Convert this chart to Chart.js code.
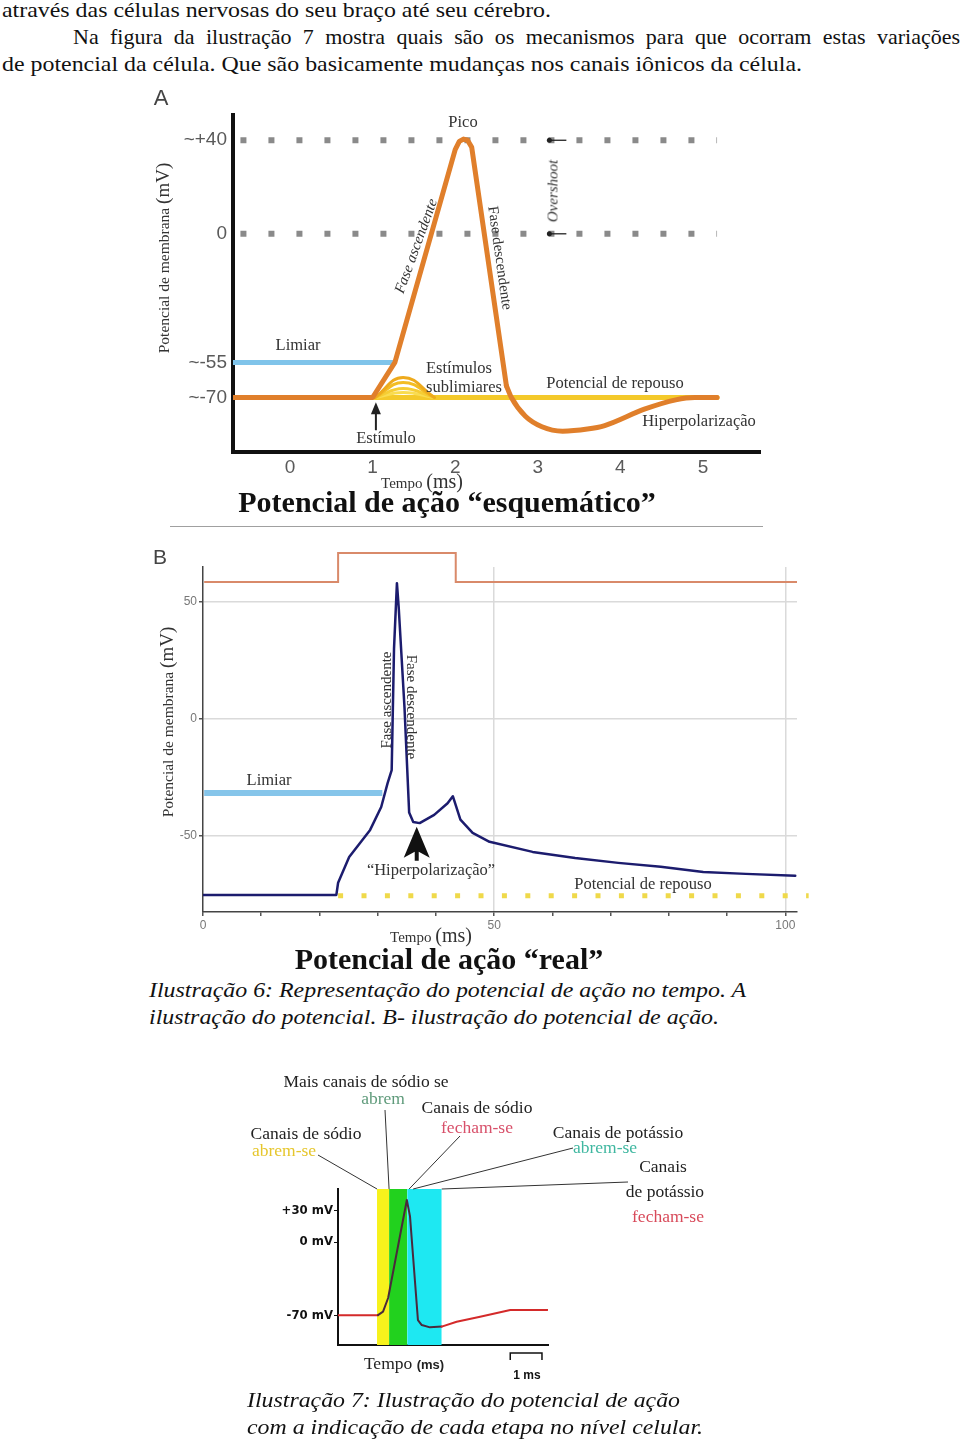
<!DOCTYPE html>
<html lang="pt">
<head>
<meta charset="utf-8">
<script src="https://cdn.jsdelivr.net/npm/chart.js@4.4.1/dist/chart.umd.min.js"></script>
<style>
  html, body { margin: 0; padding: 0; background: #fff; }
  body { position: relative; width: 960px; height: 1442px; overflow: hidden;
         font-family: 'Liberation Serif', serif; color: #111; }
  canvas { position: absolute; }
  .linha { position: absolute; font-size: 22px; line-height: 1; white-space: nowrap; transform-origin: 0 0; }
  .just { text-align: justify; text-align-last: justify; white-space: normal; }
  .leg { font-style: italic; }
  .t { position: absolute; transform: translate(-50%, -50%); white-space: nowrap; line-height: 1;
       font-size: 16.5px; color: #333; }
  .sans { font-family: 'Liberation Sans', Arial, sans-serif; }
  .titulo { font-weight: bold; font-size: 30px; color: #111; }
  .c { font-size: 17.5px; color: #222; }
</style>
</head>
<body>

<!-- texto do documento -->
<div class="linha" style="left:2px; top:-1px" data-w="549">através das células nervosas do seu braço até seu cérebro.</div>
<div class="linha just" style="left:73px; top:26px; width:887px">Na figura da ilustração 7 mostra quais são os mecanismos para que ocorram estas variações</div>
<div class="linha" style="left:2px; top:53px" data-w="800">de potencial da célula. Que são basicamente mudanças nos canais iônicos da célula.</div>

<canvas id="graficoA" width="620" height="440" style="left:150px; top:85px"></canvas>
<canvas id="graficoB" width="670" height="420" style="left:150px; top:540px"></canvas>
<canvas id="graficoC" width="480" height="330" style="left:240px; top:1060px"></canvas>

<!-- rótulos do gráfico A -->
<div class="t sans" style="left:161px; top:98px; font-size:22px; color:#444">A</div>
<div class="t" style="left:162px; top:258px; transform:translate(-50%,-50%) rotate(-90deg); font-size:15.5px">Potencial de membrana <span style="font-size:19px">(mV)</span></div>
<div class="t" style="left:463px; top:122px">Pico</div>
<div class="t" style="left:416px; top:246px; transform:translate(-50%,-50%) rotate(-70deg); font-size:15px; font-style:italic">Fase ascendente</div>
<div class="t" style="left:500px; top:258px; transform:translate(-50%,-50%) rotate(82deg); font-size:15px">Fase descendente</div>
<div class="t" style="left:553px; top:191px; transform:translate(-50%,-50%) rotate(-90deg); font-size:15px; font-style:italic">Overshoot</div>
<div class="t" style="left:298px; top:345px">Limiar</div>
<div class="t" style="left:459px; top:368px">Estímulos</div>
<div class="t" style="left:464px; top:387px">sublimiares</div>
<div class="t" style="left:615px; top:383px">Potencial de repouso</div>
<div class="t" style="left:699px; top:421px">Hiperpolarização</div>
<div class="t" style="left:386px; top:438px">Estímulo</div>
<div class="t" style="left:422px; top:481px; font-size:15px">Tempo <span style="font-size:20px">(ms)</span></div>
<div class="t titulo" style="left:447px; top:502px">Potencial de ação “esquemático”</div>
<div style="position:absolute; left:170px; top:526px; width:593px; height:1px; background:#a0a0a0"></div>

<!-- rótulos do gráfico B -->
<div class="t sans" style="left:160px; top:556px; font-size:21px; color:#444">B</div>
<div class="t" style="left:166px; top:722px; transform:translate(-50%,-50%) rotate(-90deg); font-size:15.5px">Potencial de membrana <span style="font-size:19px">(mV)</span></div>
<div class="t" style="left:269px; top:780px">Limiar</div>
<div class="t" style="left:386px; top:700px; transform:translate(-50%,-50%) rotate(-90deg); font-size:15px">Fase ascendente</div>
<div class="t" style="left:411px; top:707px; transform:translate(-50%,-50%) rotate(90deg); font-size:15px">Fase descendente</div>
<div class="t" style="left:431px; top:870px">“Hiperpolarização”</div>
<div class="t" style="left:643px; top:884px">Potencial de repouso</div>
<div class="t" style="left:431px; top:935px; font-size:15px">Tempo <span style="font-size:20px">(ms)</span></div>
<div class="t titulo" style="left:449px; top:959px">Potencial de ação “real”</div>

<div class="linha leg" style="left:149px; top:979px" data-w="597">Ilustração 6: Representação do potencial de ação no tempo. A</div>
<div class="linha leg" style="left:149px; top:1006px" data-w="570">ilustração do potencial. B- ilustração do potencial de ação.</div>

<!-- rótulos do gráfico C -->
<div class="t c" style="left:366px; top:1082px">Mais canais de sódio se</div>
<div class="t c" style="left:383px; top:1099px; color:#5e9a7a">abrem</div>
<div class="t c" style="left:477px; top:1108px">Canais de sódio</div>
<div class="t c" style="left:477px; top:1128px; color:#d8506a">fecham-se</div>
<div class="t c" style="left:306px; top:1134px">Canais de sódio</div>
<div class="t c" style="left:284px; top:1151px; color:#e6c62c">abrem-se</div>
<div class="t c" style="left:618px; top:1133px">Canais de potássio</div>
<div class="t c" style="left:605px; top:1148px; color:#3fb7a0">abrem-se</div>
<div class="t c" style="left:663px; top:1167px">Canais</div>
<div class="t c" style="left:665px; top:1192px">de potássio</div>
<div class="t c" style="left:668px; top:1217px; color:#d84a5a">fecham-se</div>
<div class="t c" style="left:404px; top:1364px">Tempo <span class="sans" style="font-size:13px; font-weight:bold">(ms)</span></div>
<div class="t sans" style="left:527px; top:1375px; font-size:12px; font-weight:bold; color:#111">1 ms</div>

<div class="linha leg" style="left:247px; top:1389px" data-w="433">Ilustração 7: Ilustração do potencial de ação</div>
<div class="linha leg" style="left:247px; top:1416px" data-w="456">com a indicação de cada etapa no nível celular.</div>

<script>
// ── A: potencial de ação "esquemático" (tempo em ms, potencial em mV) ──
const tempoTicksA   = [0, 1, 2, 3, 4, 5];
const nivelTicksA   = [40, 0, -55, -70];
const rotulosTicksA = ['~+40', '0', '~-55', '~-70'];

const tempoSubidaA     = [-0.69, 1.0, 1.27, 2.0, 2.05, 2.1, 2.15, 2.2, 2.62];
const potencialSubidaA = [-70, -70, -55, 36, 39.5, 40.5, 40, 37, -65];
const tempoRetornoA     = [2.62, 2.68, 2.85, 3.05, 3.3, 3.6, 3.81, 4.29, 4.67, 4.9, 5.17];
const potencialRetornoA = [-65, -70, -78, -82.5, -84.4, -83.5, -82, -75, -71, -70, -70];

const tempoSublimiarA = [1.03, 1.37, 1.75];
const picosSublimiarA = [-61.4, -63.6, -66.2, -67.9];
const coresSublimiarA = ['#eeaa1c', '#f3bd24', '#f6cd34', '#f9dc50'];

const tempoRepousoA = [1.0, 5.17];
const tempoLimiarA  = [-0.69, 1.27];
const tempoGuiasA   = [-0.6, 5.17];
const nivelGuiasA   = [40, 0];

// ── B: potencial de ação "real" ──
const tempoB = [0, 22.9, 23.2, 25.1, 28.7, 30.6, 31.7, 32.4, 32.8, 33.3, 33.6, 34.6, 35.4, 36.1, 37.2,
                39.7, 42.0, 42.9, 44.2, 46.3, 49.2, 56.6, 63.9, 71.3, 78.6, 85.9, 93.2, 101.7];
const potencialB = [-75.2, -75.2, -70, -59, -47.4, -37.6, -27.4, -21.8, 30, 58.1, 48, 5, -40, -44, -44.5,
                    -41, -36, -33, -43, -48.7, -52.5, -56.8, -59.4, -61.5, -63.2, -65.4, -66.2, -67];
const tempoEstimuloB = [0.2, 23.2, 23.2, 43.4, 43.4, 102];
const nivelEstimuloB = [58.6, 58.6, 71, 71, 58.6, 58.6];
const tempoLimiarB   = [0.2, 30.8];
const nivelLimiarB   = -31.6;
const tempoRepousoB  = [23.2, 104];
const nivelRepousoB  = -75.6;
const tempoTicksB    = [0, 10, 20, 30, 40, 50, 60, 70, 80, 90, 100];
const nivelTicksB    = [50, 0, -50];

// ── C: canais iônicos ──
const tempoC     = [0, 1.26, 1.42, 1.58, 2.17, 2.27, 2.52, 2.64, 2.90, 3.27, 3.74, 4.48, 5.43, 6.6];
const potencialC = [-70, -70, -66.7, -53.6, 40.3, 24.6, -74.8, -79.5, -81.7, -81, -76.3, -71.5, -65, -65];
const faseInicioC = [1.23, 1.61, 2.18];
const faseFimC    = [1.61, 2.18, 3.27];
const faseCoresC  = ['#f7f21c', '#22d11e', '#1ee8f2'];
const nivelTicksC   = [30, 0, -70];
const rotulosTicksC = ['+30 mV', '0 mV', '-70 mV'];

const pontos = (xs, ys) => xs.map((x, i) => ({ x, y: Array.isArray(ys) ? ys[i] : ys }));
const fixarTicks = valores => scale => { scale.ticks = valores.map(v => ({ value: v })); };

Chart.defaults.font.family = "'Liberation Sans', Arial, sans-serif";

const basico = {
  responsive: false,
  animation: false,
  devicePixelRatio: 1,
  events: [],
  plugins: { legend: { display: false }, tooltip: { enabled: false } },
  elements: { point: { radius: 0 }, line: { borderJoinStyle: 'round', borderCapStyle: 'round', fill: false } }
};

// ── plugins de anotação ──
const anotacoesA = {
  id: 'anotacoesA',
  afterDatasetsDraw(chart) {
    const { ctx, scales: { x, y } } = chart;
    ctx.save();
    ctx.strokeStyle = '#222';
    ctx.fillStyle = '#222';
    // seta do estímulo
    const sx = x.getPixelForValue(1.04);
    const topo = y.getPixelForValue(-72);
    const base = y.getPixelForValue(-84);
    ctx.lineWidth = 2;
    ctx.beginPath(); ctx.moveTo(sx, base); ctx.lineTo(sx, topo + 8); ctx.stroke();
    ctx.beginPath(); ctx.moveTo(sx, topo); ctx.lineTo(sx - 5, topo + 12); ctx.lineTo(sx + 5, topo + 12); ctx.closePath(); ctx.fill();
    // marcas do overshoot
    ctx.lineWidth = 1.3;
    nivelGuiasA.forEach(v => {
      const py = y.getPixelForValue(v);
      const px = x.getPixelForValue(3.14);
      ctx.beginPath(); ctx.moveTo(px, py); ctx.lineTo(px + 17, py); ctx.stroke();
      ctx.beginPath(); ctx.arc(px, py, 2.5, 0, Math.PI * 2); ctx.fill();
    });
    ctx.restore();
  }
};

const anotacoesB = {
  id: 'anotacoesB',
  afterDatasetsDraw(chart) {
    const { ctx, scales: { x, y } } = chart;
    const px = x.getPixelForValue(36.7);
    const py = y.getPixelForValue(-46);
    ctx.save();
    ctx.fillStyle = '#111';
    ctx.beginPath();
    ctx.moveTo(px, py);
    ctx.lineTo(px + 13, py + 31);
    ctx.lineTo(px + 2, py + 25);
    ctx.lineTo(px + 2, py + 34);
    ctx.lineTo(px - 2, py + 34);
    ctx.lineTo(px - 2, py + 25);
    ctx.lineTo(px - 13, py + 31);
    ctx.closePath();
    ctx.fill();
    ctx.restore();
  }
};

const anotacoesC = {
  id: 'anotacoesC',
  afterDatasetsDraw(chart) {
    const { ctx, chartArea, scales: { x, y } } = chart;
    const topo = chartArea.top;
    // linhas de chamada: do rótulo (px no canvas) até a borda de cada fase
    const chamadas = [
      [78, 95, x.getPixelForValue(faseInicioC[0])],
      [145, 50, x.getPixelForValue(faseInicioC[1])],
      [220, 76, x.getPixelForValue(faseFimC[1]) + 2],
      [333, 88, x.getPixelForValue(faseFimC[1]) + 6],
      [388, 122, x.getPixelForValue(faseFimC[2])]
    ];
    ctx.save();
    ctx.strokeStyle = '#333';
    ctx.lineWidth = 1;
    chamadas.forEach(([lx, ly, ax]) => {
      ctx.beginPath(); ctx.moveTo(lx, ly); ctx.lineTo(ax, topo); ctx.stroke();
    });
    // barra de escala de 1 ms
    const x0 = x.getPixelForValue(5.43);
    const x1 = x.getPixelForValue(6.43);
    const by = chartArea.bottom + 8;
    ctx.strokeStyle = '#111';
    ctx.lineWidth = 1.5;
    ctx.beginPath();
    ctx.moveTo(x0, by + 7); ctx.lineTo(x0, by); ctx.lineTo(x1, by); ctx.lineTo(x1, by + 7);
    ctx.stroke();
    ctx.restore();
  }
};

// ── gráfico A ──
const laranja = '#e07f2b';
new Chart(document.getElementById('graficoA'), {
  type: 'line',
  data: {
    datasets: [
      { data: pontos(tempoSubidaA, potencialSubidaA), borderColor: laranja, borderWidth: 5, tension: 0, order: 1 },
      { data: pontos(tempoRetornoA, potencialRetornoA), borderColor: laranja, borderWidth: 5, cubicInterpolationMode: 'monotone', order: 1 },
      ...picosSublimiarA.map((p, i) => ({
        data: pontos(tempoSublimiarA, [-70, p, -70]),
        borderColor: coresSublimiarA[i], borderWidth: 3, tension: 0.45, order: 2 + i * 0.1
      })),
      { data: pontos(tempoRepousoA, -70), borderColor: '#f4c92a', borderWidth: 5, order: 3 },
      { data: pontos(tempoLimiarA, -55), borderColor: '#80c4ea', borderWidth: 5, borderCapStyle: 'butt', order: 3 },
      ...nivelGuiasA.map(v => ({
        data: pontos(tempoGuiasA, v), borderColor: '#8a8a8a', borderWidth: 6,
        borderDash: [6, 22], borderCapStyle: 'butt', order: 4
      }))
    ]
  },
  options: {
    ...basico,
    layout: { padding: { top: 30, right: 10, left: 0, bottom: 0 } },
    scales: {
      x: {
        type: 'linear', min: -0.69, max: 5.69,
        afterBuildTicks: fixarTicks(tempoTicksA),
        afterFit: s => { s.height = 73; },
        grid: { display: false, drawTicks: false },
        border: { color: '#111', width: 4 },
        ticks: { autoSkip: false, padding: 4, color: '#5a5a5a', font: { size: 19 } }
      },
      y: {
        type: 'linear', min: -93.3, max: 50.8,
        afterBuildTicks: fixarTicks(nivelTicksA),
        afterFit: s => { s.width = 83; },
        grid: { display: false, drawTicks: false },
        border: { color: '#111', width: 4 },
        ticks: {
          autoSkip: false, padding: 6, color: '#5a5a5a', font: { size: 19 },
          callback: v => rotulosTicksA[nivelTicksA.indexOf(v)]
        }
      }
    }
  },
  plugins: [anotacoesA]
});

// ── gráfico B ──
const cinzaGrade = '#dadada';
new Chart(document.getElementById('graficoB'), {
  type: 'line',
  data: {
    datasets: [
      { data: pontos(tempoB, potencialB), borderColor: '#1c1c6e', borderWidth: 2.5, tension: 0, order: 1 },
      { data: pontos(tempoLimiarB, nivelLimiarB), borderColor: '#86c5ea', borderWidth: 6, borderCapStyle: 'butt', order: 2 },
      { data: pontos(tempoRepousoB, nivelRepousoB), borderColor: '#efd94a', borderWidth: 5,
        borderDash: [5, 18.4], borderCapStyle: 'butt', clip: false, order: 3 },
      { data: pontos(tempoEstimuloB, nivelEstimuloB), borderColor: '#d98a6a', borderWidth: 2,
        borderJoinStyle: 'miter', borderCapStyle: 'butt', clip: false, order: 3 }
    ]
  },
  options: {
    ...basico,
    layout: { padding: { top: 27, right: 23, left: 0, bottom: 0 } },
    scales: {
      x: {
        type: 'linear', min: 0, max: 102,
        afterBuildTicks: fixarTicks(tempoTicksB),
        afterFit: s => { s.height = 48; },
        grid: {
          color: c => (c.tick && c.tick.value > 0 && c.tick.value % 50 === 0) ? cinzaGrade : 'transparent',
          tickColor: '#555', tickLength: 4, lineWidth: 1.5
        },
        border: { color: '#444', width: 1.5 },
        ticks: { autoSkip: false, padding: 2, color: '#777', font: { size: 12 },
                 callback: v => (v % 50 === 0 ? v : '') }
      },
      y: {
        type: 'linear', min: -82.5, max: 65,
        afterBuildTicks: fixarTicks(nivelTicksB),
        afterFit: s => { s.width = 53; },
        grid: { color: cinzaGrade, tickColor: '#555', tickLength: 4, lineWidth: 1.5 },
        border: { color: '#444', width: 1.5 },
        ticks: { autoSkip: false, padding: 2, color: '#777', font: { size: 12 } }
      }
    }
  },
  plugins: [anotacoesB]
});

// ── gráfico C ──
const topoFaseC = 50.8;
const dentroDasFases = x => x > faseInicioC[0] && x < faseFimC[faseFimC.length - 1];
new Chart(document.getElementById('graficoC'), {
  type: 'line',
  data: {
    datasets: [
      { data: pontos(tempoC, potencialC), borderColor: '#d42a2a', borderWidth: 2, tension: 0, order: 1,
        segment: { borderColor: s => dentroDasFases((s.p0.parsed.x + s.p1.parsed.x) / 2) ? '#4a2a3c' : '#d42a2a' } },
      ...faseInicioC.map((ini, i) => ({
        data: pontos([ini, faseFimC[i]], topoFaseC),
        borderWidth: 0, borderColor: 'transparent', backgroundColor: faseCoresC[i],
        fill: 'start', order: 5
      }))
    ]
  },
  options: {
    ...basico,
    layout: { padding: { top: 129, right: 172, left: 0, bottom: 0 } },
    scales: {
      x: {
        type: 'linear', min: 0, max: 6.62,
        afterFit: s => { s.height = 45; },
        grid: { display: false, drawTicks: false },
        border: { color: '#111', width: 2 },
        ticks: { display: false }
      },
      y: {
        type: 'linear', min: -98.6, max: topoFaseC,
        afterBuildTicks: fixarTicks(nivelTicksC),
        afterFit: s => { s.width = 98; },
        grid: { drawOnChartArea: false, tickColor: '#111', tickLength: 4 },
        border: { color: '#111', width: 2 },
        ticks: {
          autoSkip: false, padding: 1, color: '#111',
          font: { family: "'Liberation Sans Narrow', 'DejaVu Sans Condensed', sans-serif", size: 13, weight: 'bold' },
          callback: v => rotulosTicksC[nivelTicksC.indexOf(v)]
        }
      }
    }
  },
  plugins: [anotacoesC]
});

// ajusta a largura das linhas de texto à do documento original
document.querySelectorAll('.linha[data-w]').forEach(el => {
  const alvo = parseFloat(el.dataset.w);
  const natural = el.getBoundingClientRect().width;
  if (natural > 0) el.style.transform = `scaleX(${alvo / natural})`;
});
</script>
</body>
</html>
